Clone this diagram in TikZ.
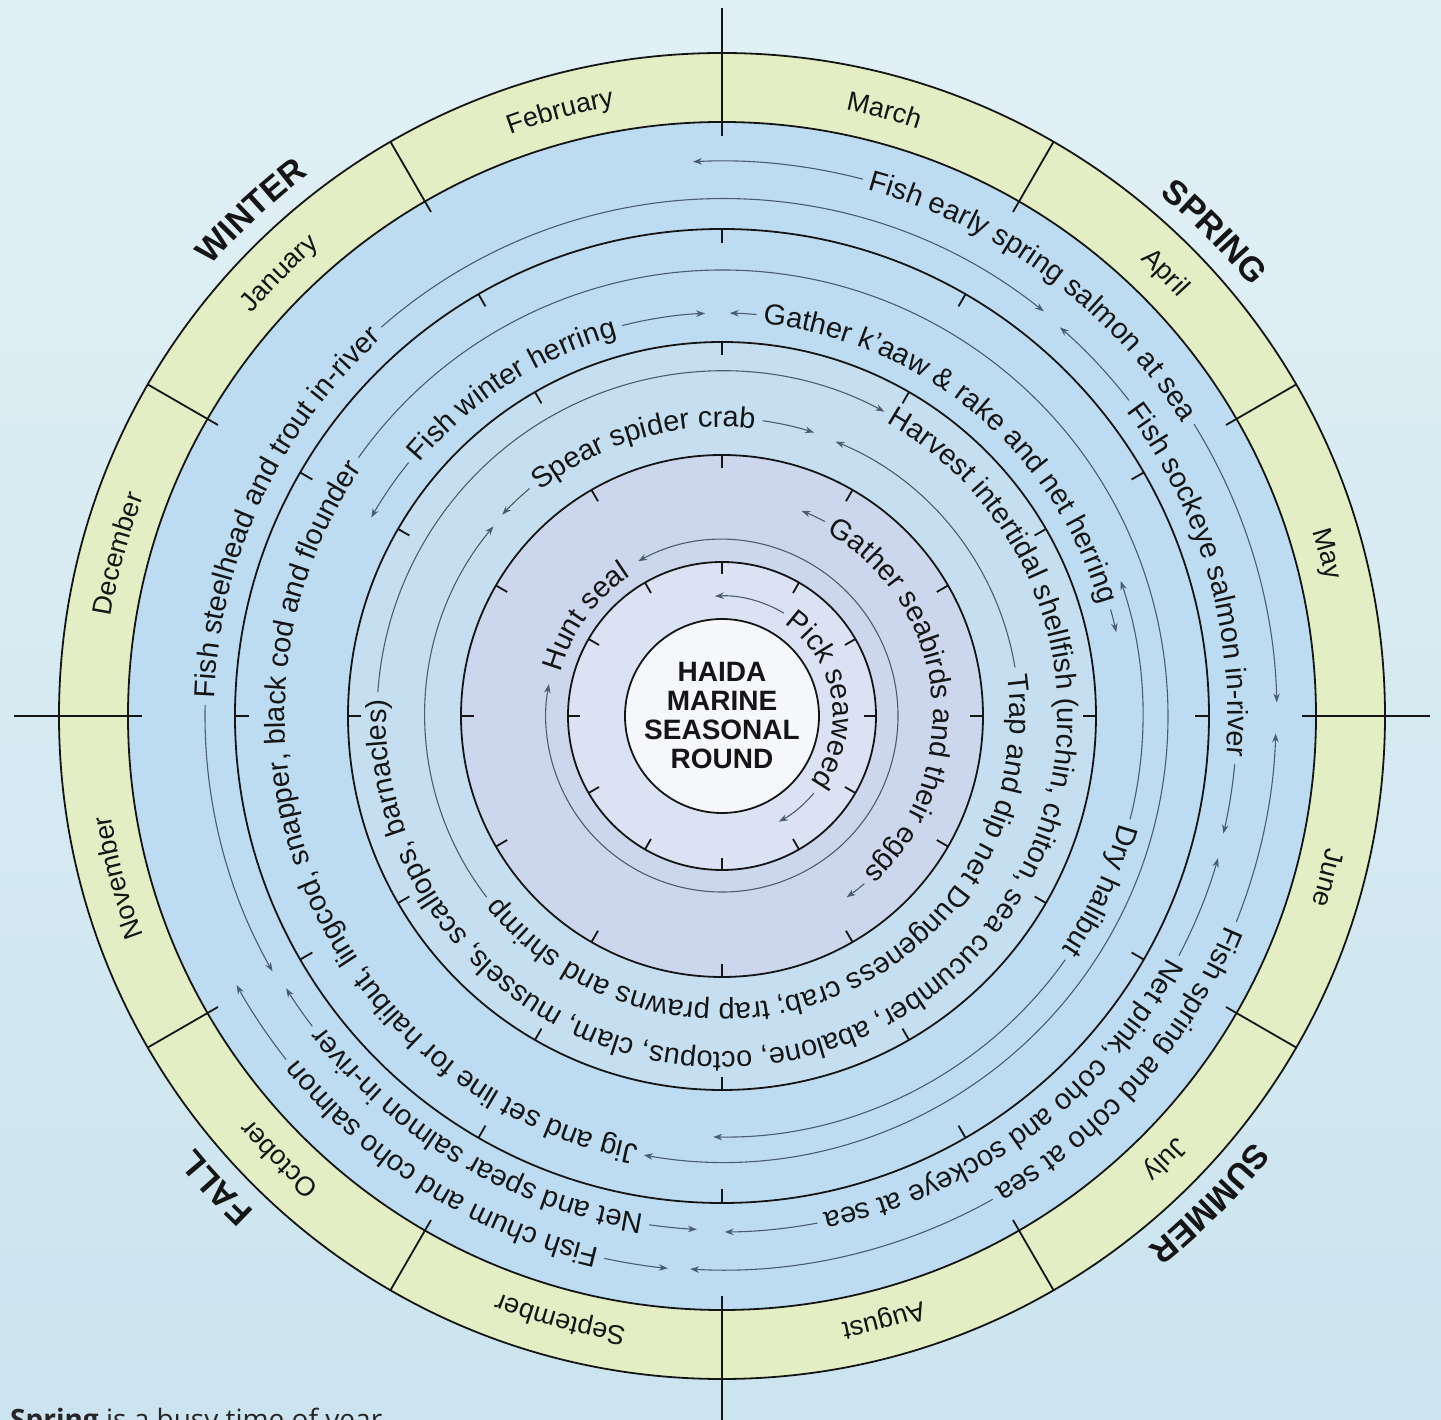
\documentclass[tikz,border=0pt]{standalone}
\usepackage{fontspec}
\setmainfont{Liberation Sans}
\newfontfamily\notefont{Open Sans}
\usetikzlibrary{arrows.meta}

\definecolor{bgtop}{HTML}{E1F0F5}
\definecolor{bgbot}{HTML}{CBE4EF}
\definecolor{monthc}{HTML}{E3EEC4}
\definecolor{bandA}{HTML}{BDDCF1}
\definecolor{bandC}{HTML}{C5DFF1}
\definecolor{bandD}{HTML}{CCD6EC}
\definecolor{bandE}{HTML}{DAE2F3}
\definecolor{centerc}{HTML}{F5F7FB}
\definecolor{trackc}{HTML}{4A5D70}
\definecolor{inkc}{HTML}{151515}

\newcommand\actfont{\fontsize{29}{32}\selectfont}
\newcommand\monfont{\fontsize{27}{30}\selectfont}
\newcommand\seafont{\fontsize{34}{36}\selectfont\bfseries}
\newcommand\titfont{\fontsize{28}{29}\selectfont\bfseries}

\tikzset{
  ringline/.style={draw=inkc, line width=1.8pt},
  trackline/.style={draw=trackc, line width=1.1pt},
  glyph/.style={anchor=base, inner sep=0pt, text=inkc},
}

\newcommand\myplacechar[4]{\node[glyph,rotate=#3] at (#1pt,#2pt) {#4};}
\gdef\mylist{}

\ExplSyntaxOn
\dim_new:N \g_my_w_dim
\fp_new:N \l_my_ang_fp
\fp_new:N \l_my_half_fp
\tl_new:N \l_my_x_tl
\tl_new:N \l_my_y_tl
\tl_new:N \l_my_r_tl
\box_new:N \l_my_char_box
\cs_new_protected:Npn \my_char_box:nn #1#2
  {
    \str_if_eq:nnTF {#2} {~}
      { \hbox_set:Nn \l_my_char_box { #1 \hskip\fontdimen2\font } }
      { \hbox_set:Nn \l_my_char_box { #1 #2 } }
  }
\NewDocumentCommand \MeasureArcText { m m }
  {
    \dim_gzero:N \g_my_w_dim
    \str_map_inline:nn {#2}
      {
        \my_char_box:nn {#1} {##1}
        \dim_gadd:Nn \g_my_w_dim { \box_wd:N \l_my_char_box }
      }
    \tl_gset:Nx \MyTextWidth { \dim_to_decimal:n { \g_my_w_dim } }
  }
% font, baseline radius, centre angle, text  (clockwise, tops outward)
\NewDocumentCommand \PlaceArcText { m m m m }
  {
    \MeasureArcText {#1} {#4}
    \fp_set:Nn \l_my_ang_fp { (#3) + \MyTextWidth / 2 / (#2) * 180 / \c_pi_fp }
    \str_map_inline:nn {#4}
      {
        \my_char_box:nn {#1} {##1}
        \fp_set:Nn \l_my_half_fp { \dim_to_decimal:n { \box_wd:N \l_my_char_box } / 2 / (#2) * 180 / \c_pi_fp }
        \fp_sub:Nn \l_my_ang_fp { \l_my_half_fp }
        \str_if_eq:nnF {##1} {~}
          {
            \tl_set:Nx \l_my_x_tl { \fp_eval:n { round((#2) * cosd(\l_my_ang_fp), 3) } }
            \tl_set:Nx \l_my_y_tl { \fp_eval:n { round((#2) * sind(\l_my_ang_fp), 3) } }
            \tl_set:Nx \l_my_r_tl { \fp_eval:n { round(\l_my_ang_fp - 90, 3) } }
            \tl_gput_right:Nx \mylist
              { \exp_not:N \myplacechar {\l_my_x_tl} {\l_my_y_tl} {\l_my_r_tl} { \exp_not:n { #1 ##1 } } }
          }
        \fp_sub:Nn \l_my_ang_fp { \l_my_half_fp }
      }
  }
\ExplSyntaxOff

% standard activity: #1 radius, #2 text centre angle, #3 start angle, #4 end angle, #5 text
\newcommand\act[5]{%
  \MeasureArcText{\actfont}{#5}%
  \pgfmathsetmacro\myrb{#1-9}%
  \pgfmathsetmacro\myhs{(\MyTextWidth/2)/\myrb*57.29578}%
  \pgfmathsetmacro\mygap{7/#1*57.29578}%
  \pgfmathsetmacro\mya{#2+\myhs+\mygap}%
  \pgfmathsetmacro\myb{#2-\myhs-\mygap}%
  \xdef\mylist{\unexpanded\expandafter{\mylist}%
    \noexpand\draw[trackline,<-] (#3:#1pt) arc[start angle=#3,end angle=\mya,radius=#1pt];%
    \noexpand\draw[trackline,->] (\myb:#1pt) arc[start angle=\myb,end angle=#4,radius=#1pt];}%
  \PlaceArcText{\actfont}{\myrb}{#2}{#5}%
}
% year-round activity: #1 radius, #2 centre angle, #3 text, #4 tips, #5 gap (px)
\newcommand\actwrap[5]{%
  \MeasureArcText{\actfont}{#3}%
  \pgfmathsetmacro\myrb{#1-9}%
  \pgfmathsetmacro\myhs{(\MyTextWidth/2)/\myrb*57.29578}%
  \pgfmathsetmacro\mygap{#5/#1*57.29578}%
  \pgfmathsetmacro\mya{#2-\myhs-\mygap}%
  \pgfmathsetmacro\myb{#2+\myhs+\mygap-360}%
  \xdef\mylist{\unexpanded\expandafter{\mylist}%
    \noexpand\draw[trackline,#4] (\mya:#1pt) arc[start angle=\mya,end angle=\myb,radius=#1pt];}%
  \PlaceArcText{\actfont}{\myrb}{#2}{#3}%
}

\begin{document}
% ---- layout of all curved texts and activity arcs (measured outside the picture)
% months
\PlaceArcText{\monfont}{619}{135}{January}%
\PlaceArcText{\monfont}{619}{105}{February}%
\PlaceArcText{\monfont}{619}{75}{March}%
\PlaceArcText{\monfont}{619}{45}{April}%
\PlaceArcText{\monfont}{619}{15}{May}%
\PlaceArcText{\monfont}{619}{-15}{June}%
\PlaceArcText{\monfont}{619}{-45}{July}%
\PlaceArcText{\monfont}{619}{-75}{August}%
\PlaceArcText{\monfont}{619}{-105}{September}%
\PlaceArcText{\monfont}{619}{-135}{October}%
\PlaceArcText{\monfont}{619}{-165}{November}%
\PlaceArcText{\monfont}{619}{165}{December}%
% seasons
\PlaceArcText{\seafont}{681}{133}{WINTER}%
\PlaceArcText{\seafont}{681}{44.5}{SPRING}%
\PlaceArcText{\seafont}{681}{-45}{SUMMER}%
\PlaceArcText{\seafont}{681}{-137}{FALL}%
% band 1
\act{555}{53.5}{93}{1.4}{Fish early spring salmon at sea}%
\act{554}{-41.3}{-1.8}{-93.3}{Fish spring and coho at sea}%
\act{555}{-122}{-95.6}{-151}{Fish chum and coho salmon}%
\act{517}{155}{209.6}{51.5}{Fish steelhead and trout in-river}%
\act{515}{16.2}{49}{-13.2}{Fish sockeye salmon in-river}%
\act{516}{-53.5}{-16}{-89.7}{Net pink, coho and sockeye at sea}%
\act{514}{-120.5}{-92.8}{-148}{Net and spear salmon in-river}%
% band 2
\actwrap{446}{-157.75}{Jig and set line for halibut, lingcod, snapper, black cod and flounder}{->}{7}%
\act{403}{122.7}{150.5}{92.4}{Fish winter herring}%
\act{403}{50.2}{88.9}{12}{Gather k’aaw & rake and net herring}%
\act{421}{-24.8}{18.7}{-91.2}{Dry halibut}%
% band 3
\actwrap{345}{-61}{Harvest intertidal shellfish (urchin, chiton, sea cucumber, abalone, octopus, clam, mussels, scallops, barnacles)}{->}{7}%
\act{298}{106.2}{137.5}{72}{Spear spider crab}%
\act{297}{-66.5}{67.5}{-219.7}{Trap and dip net Dungeness crab; trap prawns and shrimp}%
% band 4
\act{220}{6.2}{68.8}{-55.5}{Gather seabirds and their eggs}%
\actwrap{176}{144}{Hunt seal}{<->}{14}%
% band 5
\act{120}{9.5}{93.4}{-61.7}{Pick seaweed}%
%
\begin{tikzpicture}[>={Stealth[length=9pt,width=6.5pt]}]
\useasboundingbox (-722pt,-704pt) rectangle (719pt,716pt);
\shade[top color=bgtop,bottom color=bgbot] (-722pt,-704pt) rectangle (719pt,716pt);

% bands
\fill[monthc] (0,0) circle[radius=663pt];
\fill[bandA] (0,0) circle[radius=594pt];
\fill[bandC] (0,0) circle[radius=374pt];
\fill[bandD] (0,0) circle[radius=261pt];
\fill[bandE] (0,0) circle[radius=154pt];
\fill[centerc] (0,0) circle[radius=97pt];

% circles
\foreach \r in {663,594,487,374,261,154,97}
  \draw[ringline] (0,0) circle[radius=\r pt];

% ticks on inner circles
\foreach \a in {0,30,...,330} {
  \draw[ringline] (\a:487pt) -- (\a:473pt);
  \draw[ringline] (\a:374pt) -- (\a:361pt);
  \draw[ringline] (\a:261pt) -- (\a:248pt);
  \draw[ringline] (\a:154pt) -- (\a:142pt);
}
% month dividers and axes
\foreach \a in {30,60,120,150,210,240,300,330}
  \draw[ringline] (\a:582pt) -- (\a:663pt);
\foreach \a in {0,90,180,270}
  \draw[ringline] (\a:580pt) -- (\a:708pt);

% activity arcs and all curved labels
\mylist

% centre
\node[align=center,font=\titfont,text=inkc,inner sep=0pt] (title) at (0,0) {HAIDA\\MARINE\\SEASONAL\\ROUND};

% cut-off note
\node[anchor=base west,inner sep=0pt,font=\notefont\fontsize{28}{32}\selectfont,text=black!85] (note) at (-712pt,-713pt) {\textbf{Spring} is a busy time of year};
\end{tikzpicture}
\end{document}
